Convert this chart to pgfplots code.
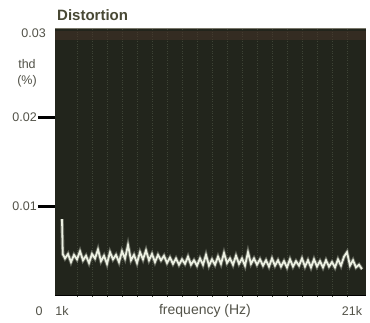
\documentclass[border=0pt]{standalone}
\usepackage{pgfplots}
\pgfplotsset{compat=1.18}
\usepackage{pgfplotstable}
\usepackage{fontspec}
\setmainfont{Liberation Sans}
\definecolor{scopebg}{RGB}{34,37,28}
\definecolor{gridc}{RGB}{62,68,54}
\definecolor{tracec}{RGB}{236,240,226}
\definecolor{labc}{RGB}{82,82,72}
\definecolor{titc}{RGB}{72,72,52}
\definecolor{bandc}{RGB}{70,52,40}
\definecolor{topc}{RGB}{120,118,105}
\pgfplotstableread{
f v
1000 0.0086
1050 0.0047
1200 0.0042
1400 0.0047
1600 0.0038
1800 0.0046
2000 0.0041
2200 0.0050
2400 0.0040
2600 0.0045
2800 0.0037
3000 0.0047
3200 0.0042
3400 0.0052
3600 0.0039
3800 0.0045
4000 0.0036
4200 0.0049
4400 0.0041
4600 0.0046
4800 0.0038
5000 0.0050
5200 0.0042
5400 0.0057
5600 0.0040
5800 0.0046
6000 0.0037
6200 0.0049
6400 0.0041
6600 0.0051
6800 0.0040
7000 0.0047
7200 0.0038
7400 0.0046
7600 0.0040
7800 0.0045
8000 0.0037
8200 0.0043
8400 0.0036
8600 0.0042
8800 0.0035
9000 0.0041
9200 0.0036
9400 0.0044
9600 0.0035
9800 0.0040
10000 0.0034
10200 0.0042
10400 0.0035
10600 0.0046
10800 0.0034
11000 0.0041
11200 0.0035
11400 0.0044
11600 0.0036
11800 0.0048
12000 0.0037
12200 0.0042
12400 0.0035
12600 0.0045
12800 0.0036
13000 0.0042
13200 0.0034
13400 0.0049
13600 0.0036
13800 0.0042
14000 0.0035
14200 0.0041
14400 0.0034
14600 0.0040
14800 0.0033
15000 0.0042
15200 0.0034
15400 0.0040
15600 0.0033
15800 0.0039
16000 0.0032
16200 0.0041
16400 0.0033
16600 0.0039
16800 0.0034
17000 0.0042
17200 0.0033
17400 0.0040
17600 0.0032
17800 0.0041
18000 0.0033
18200 0.0039
18400 0.0032
18600 0.0040
18800 0.0033
19000 0.0038
19200 0.0032
19400 0.0041
19600 0.0034
19800 0.0044
20000 0.0049
20200 0.0034
20400 0.0040
20600 0.0032
20800 0.0035
21000 0.0030
}\thd
\begin{document}
\begin{tikzpicture}
\useasboundingbox (0pt,0pt) rectangle (370pt,323pt);
\begin{axis}[
  at={(55pt,27pt)}, anchor=south west,
  width=311pt, height=268pt, scale only axis,
  xmin=533, xmax=21267, ymin=0, ymax=0.03,
  axis line style={draw=none},
  axis background/.style={fill=scopebg},
  xtick pos=bottom, ytick pos=left,
  scaled y ticks=false, scaled x ticks=false,
  xtick={1000}, xticklabels={1k},
  extra x ticks={21000}, extra x tick labels={21k},
  extra x tick style={xticklabel style={xshift=-10pt}},
  minor xtick={2000,3000,...,20000}, minor tick length=0pt,
  xminorgrids, minor x grid style={gridc, dotted, line width=0.7pt},
  x tick style={draw=none},
  xticklabel style={font=\fontsize{12.5}{14}\selectfont, text=labc, anchor=north, yshift=10pt},
  ytick={0.01,0.02}, yticklabels={0.01,0.02},
  extra y ticks={0.03}, extra y tick labels={0.03},
  extra y tick style={y tick style={draw=none}, major tick length=0pt, yticklabel style={xshift=-8pt, yshift=-5pt}},
  tick align=outside, major tick length=17pt,
  y tick style={line width=2.6pt, black},
  yticklabel style={font=\fontsize{12.5}{14}\selectfont, text=labc, anchor=east, inner sep=1pt},
  clip=true,
]
\fill[bandc, opacity=0.5] (rel axis cs:0,0.955) rectangle (rel axis cs:1,0.99);
\draw[line width=1pt, topc] (rel axis cs:0,0.998) -- (rel axis cs:1,0.998);
\addplot[line width=3.6pt, tracec, opacity=0.3] table[x=f, y=v] {\thd};
\addplot[line width=1.8pt, tracec] table[x=f, y=v] {\thd};
\draw[line width=2.6pt, black] ([xshift=-12pt]rel axis cs:0,0) -- (rel axis cs:1,0);
\end{axis}
\node[anchor=base west, font=\bfseries\fontsize{15}{17}\selectfont, text=titc, inner sep=0pt] at (57pt,302pt) {Distortion};
\node[align=center, font=\fontsize{12.5}{16}\selectfont, text=labc, inner sep=0pt] at (27pt,250pt) {thd\\(\%)};
\node[font=\fontsize{12.5}{14}\selectfont, text=labc] at (39pt,12pt) {0};
\node[font=\fontsize{14}{16}\selectfont, text=labc] at (205pt,12pt) {frequency (Hz)};
\end{tikzpicture}
\end{document}
